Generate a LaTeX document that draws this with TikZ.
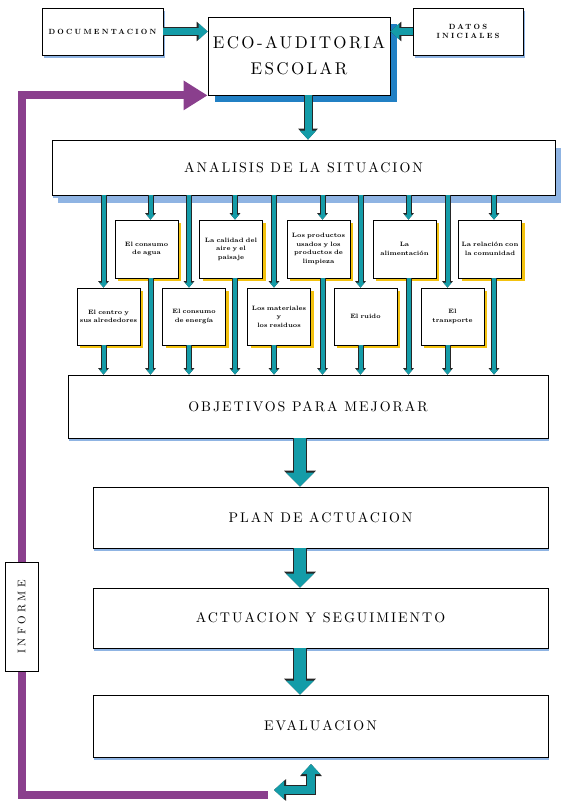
\documentclass[tikz,border=0pt]{standalone}
\usepackage{fontspec}
\usetikzlibrary{arrows.meta,shadows}

\newfontfamily\spacedfont{lmroman10-regular.otf}[LetterSpace=14, BoldFont=lmroman10-bold.otf]
\newfontfamily\widefont{lmroman10-regular.otf}[LetterSpace=30, BoldFont=lmroman10-bold.otf]

\definecolor{arrowteal}{HTML}{149CA8}
\definecolor{loopviolet}{HTML}{8A3F8D}
\definecolor{shadowblue}{HTML}{8FB4E3}
\definecolor{ecoblue}{HTML}{2180C4}
\definecolor{shadowyellow}{HTML}{F3C20F}

\begin{document}
\begin{tikzpicture}[x=1pt,y=-1pt,
    mainbox/.style={draw, thick, fill=white, align=center, inner sep=0pt,
      font=\spacedfont\fontsize{14}{16}\selectfont,
      drop shadow={shadow xshift=1pt, shadow yshift=-3pt, fill=shadowblue, opacity=1}},
    ecobox/.style={draw, thick, fill=white, align=center, inner sep=0pt,
      minimum width=182pt, minimum height=78pt,
      font=\spacedfont\fontsize{17}{26}\selectfont,
      drop shadow={shadow xshift=7pt, shadow yshift=-7pt, fill=ecoblue, opacity=1}},
    sidebox/.style={draw, thick, fill=white, align=center, inner sep=0pt,
      minimum height=47pt,
      font=\widefont\fontsize{7.5}{9}\selectfont\bfseries,
      drop shadow={shadow xshift=2pt, shadow yshift=-3pt, fill=shadowblue, opacity=1}},
    topicbox/.style={draw, thick, fill=white, align=center, inner sep=1pt,
      minimum width=63pt, text width=61pt,
      font=\fontsize{6.3}{8.5}\selectfont\bfseries,
      drop shadow={shadow xshift=3pt, shadow yshift=-3pt, fill=shadowyellow, opacity=1}},
    bararrow/.style={draw=arrowteal, line width=4pt, -{Triangle[length=5pt,width=8pt]},
      preaction={draw=black!85, line width=6pt, -{Triangle[length=6.5pt,width=10.5pt]}}},
    sidearrow/.style={draw=arrowteal, line width=7pt, -{Triangle[length=9pt,width=16pt]},
      preaction={draw=black!85, line width=9pt, -{Triangle[length=11pt,width=19pt]}}},
    bigarrow/.style={draw=arrowteal, line width=12pt, -{Triangle[length=14pt,width=27pt]},
      preaction={draw=black!85, line width=14.5pt, -{Triangle[length=16pt,width=31pt]}}},
    bentarrow/.style={draw=arrowteal, line width=8pt, {Triangle[length=10pt,width=18pt]}-{Triangle[length=10pt,width=18pt]},
      preaction={draw=black!85, line width=10pt, {Triangle[length=12pt,width=21pt]}-{Triangle[length=12pt,width=21pt]}}},
    loopline/.style={draw=loopviolet, line width=8pt},
    looparrow/.style={loopline, -{Triangle[length=24pt,width=28pt]}}
  ]
  \useasboundingbox (0,0) rectangle (563,805);

  % Top row
  \node[sidebox, minimum width=121pt] (doc) at (102.5,31.5) {DOCUMENTACION};
  \node[ecobox] (eco) at (299,56) {ECO-AUDITORIA\\ESCOLAR};
  \node[sidebox, minimum width=110pt] (datos) at (468,31.5) {DATOS\\INICIALES};
  \draw[sidearrow] (doc.east) -- (doc.east -| eco.west);
  \draw[sidearrow] (datos.west) -- (datos.west -| eco.east);

  % Analysis
  \node[mainbox, minimum width=503pt, minimum height=55pt,
    drop shadow={shadow xshift=6pt, shadow yshift=-8pt, fill=shadowblue, opacity=1}]
    (analisis) at (303.5,167.5) {ANALISIS DE LA SITUACION};
  \draw[sidearrow] ([xshift=9pt]eco.south) -- ([xshift=9pt]eco.south |- analisis.north);

  % Main steps
  \coordinate (mid) at (300,0);
  \node[mainbox, minimum width=480pt, minimum height=63pt] (objetivos) at (308,406.5) {OBJETIVOS PARA MEJORAR};
  \node[mainbox, minimum width=455pt, minimum height=61pt] (plan) at (320.5,517.5) {PLAN DE ACTUACION};
  \node[mainbox, minimum width=455pt, minimum height=60pt] (actuacion) at (320.5,618) {ACTUACION Y SEGUIMIENTO};
  \node[mainbox, minimum width=455pt, minimum height=62pt] (evaluacion) at (320.5,726) {EVALUACION};
  \draw[bigarrow] (objetivos.south -| mid) -- (plan.north -| mid);
  \draw[bigarrow] (plan.south -| mid) -- (actuacion.north -| mid);
  \draw[bigarrow] (actuacion.south -| mid) -- (evaluacion.north -| mid);

  % Topics, first row
  \foreach \name/\x/\txt in {r1a/146.5/{El consumo\\de agua},
      r1b/231/{La calidad del\\aire y el\\paisaje},
      r1c/318.5/{Los productos\\usados y los\\productos de\\limpieza},
      r1d/404.5/{La\\alimentación},
      r1e/490/{La relación con\\la comunidad}}
    \node[topicbox, minimum height=58pt] (\name) at (\x,249) {\txt};

  % Topics, second row
  \foreach \name/\x/\txt in {r2a/108.5/{El centro y\\sus alrededores},
      r2b/194/{El consumo\\de energía},
      r2c/279/{Los materiales\\y\\los residuos},
      r2d/365.5/{El ruido},
      r2e/452.5/{El\\transporte}}
    \node[topicbox, minimum height=57pt] (\name) at (\x,316.5) {\txt};

  % Connectors of the topics
  \foreach \name in {r1a,r1b,r1c,r1d,r1e} {
    \draw[bararrow] ([xshift=4pt]\name.north |- analisis.south) -- ([xshift=4pt]\name.north);
    \draw[bararrow] ([xshift=4pt]\name.south) -- ([xshift=4pt]\name.south |- objetivos.north);
  }
  \foreach \name in {r2a,r2b,r2c,r2d,r2e} {
    \draw[bararrow] ([xshift=-5pt]\name.north |- analisis.south) -- ([xshift=-5pt]\name.north);
    \draw[bararrow] ([xshift=-5pt]\name.south) -- ([xshift=-5pt]\name.south |- objetivos.north);
  }

  % Report loop
  \node[draw, thick, fill=white, minimum width=33pt, minimum height=109pt, inner sep=0pt,
    font=\widefont\fontsize{11}{12}\selectfont]
    (informe) at (21.5,617) {\rotatebox{90}{INFORME}};
  \coordinate (loopstart) at (268,795);
  \coordinate (retleft) at (274,790);
  \coordinate (rettop) at (311,764);
  \draw[loopline] (loopstart) -| (informe.south);
  \draw[looparrow] (informe.north) |- (eco.south west);
  \draw[bentarrow] (retleft) -| (rettop);
\end{tikzpicture}
\end{document}
